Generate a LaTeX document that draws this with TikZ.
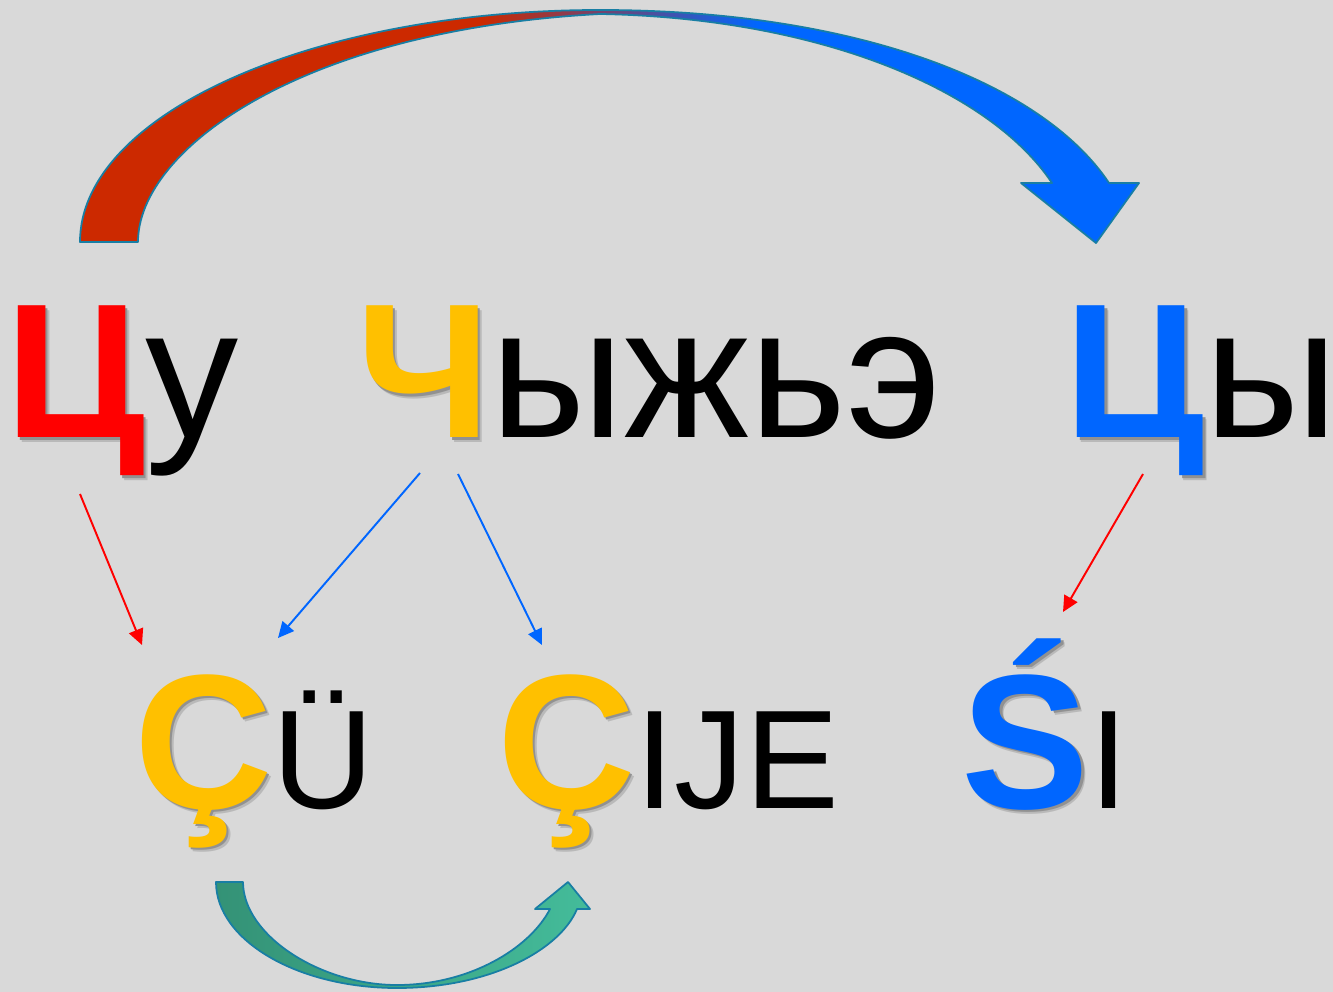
\documentclass[tikz,border=0pt]{standalone}
\usepackage{fontspec}
\setmainfont{Liberation Sans}
\usetikzlibrary{arrows.meta}
\definecolor{bggray}{RGB}{217,217,217}
\definecolor{shadowgray}{RGB}{145,145,145}
\definecolor{shadowlight}{RGB}{185,185,185}
\definecolor{lettred}{RGB}{255,0,0}
\definecolor{lettyellow}{RGB}{255,192,0}
\definecolor{lettblue}{RGB}{0,102,255}
\definecolor{arrowred}{RGB}{204,41,0}
\definecolor{arrowblue}{RGB}{0,102,255}
\definecolor{arrowedge}{RGB}{24,126,164}
\definecolor{tealdark}{RGB}{52,146,118}
\definecolor{teallight}{RGB}{68,188,154}
\pgfdeclarehorizontalshading{redblue}{100bp}{color(0bp)=(arrowred); color(44bp)=(arrowred); color(57bp)=(arrowblue); color(100bp)=(arrowblue)}

\newcommand{\bigfont}{\fontsize{109}{120}\selectfont\bfseries}
\newcommand{\topfont}{\fontsize{106}{120}\selectfont}
\newcommand{\lowfont}{\fontsize{80}{96}\selectfont}
% big letter with a soft drop shadow
\newcommand{\shadowltr}[2]{\rlap{\kern2.6pt\raisebox{-2.6pt}{\color{shadowlight}#2}}\rlap{\kern1.5pt\raisebox{-1.5pt}{\color{shadowgray}#2}}{\color{#1}#2}}

\begin{document}
\begin{tikzpicture}[x=0.2mm, y=-0.2mm,
    word/.style={inner sep=0pt, anchor=base west},
    thin/.style={line width=1.1pt, -{Triangle[length=9pt,width=8.5pt]}},
    bigarrow/.style={draw=arrowedge, line width=1pt, line join=round}]
    % Background
    \fill[bggray] (0,0) rectangle (1333,992);
    \useasboundingbox (0,0) rectangle (1333,992);

    % Curved arrows
    \shadedraw[bigarrow, shading=redblue] (80,242) .. controls (80,114) and (313,10) .. (600,10)
        .. controls (850,10) and (1040,80) .. (1109,183) -- (1139,183) -- (1096,243) -- (1021,183) -- (1052,183)
        .. controls (990,90) and (820,18) .. (600,14)
        .. controls (300,30) and (138,150) .. (138,242) -- cycle;
    \shadedraw[bigarrow, left color=tealdark, right color=teallight] (216,882) .. controls (216,940) and (297,988) .. (397,988)
        .. controls (490,988) and (560,950) .. (577,909) -- (590,909) -- (568,882) -- (535,909) -- (550,909)
        .. controls (530,948) and (470,985) .. (397,985)
        .. controls (320,985) and (243,935) .. (243,882) -- cycle;

    % Words
    \node[word] (cu) at (5,438) {{\bigfont\shadowltr{lettred}{Ц}}{\topfont у}};
    \node[word] (chyzhe) at (356,438) {{\bigfont\shadowltr{lettyellow}{Ч}}{\topfont ыжьэ}};
    \node[word] (cy) at (1064,438) {{\bigfont\shadowltr{lettblue}{Ц}}{\topfont ы}};
    \node[word] (cuu) at (134,808) {{\bigfont\shadowltr{lettyellow}{Ç}}{\lowfont Ü}};
    \node[word] (cije) at (497,808) {{\bigfont\shadowltr{lettyellow}{Ç}}{\lowfont IJE}};
    \node[word] (si) at (961,808) {{\bigfont\shadowltr{lettblue}{Ś}}{\lowfont I}};

    % Thin arrows
    \coordinate (cu-from) at (80,494);
    \coordinate (cu-to) at (142,645);
    \coordinate (ch-from) at (420,473);
    \coordinate (ch-to) at (278,638);
    \coordinate (ch-from2) at (458,474);
    \coordinate (ch-to2) at (542,645);
    \coordinate (cy-from) at (1143,474);
    \coordinate (cy-to) at (1063,612);
    \draw[thin, lettred] (cu-from) -- (cu-to);
    \draw[thin, lettblue] (ch-from) -- (ch-to);
    \draw[thin, lettblue] (ch-from2) -- (ch-to2);
    \draw[thin, lettred] (cy-from) -- (cy-to);
\end{tikzpicture}
\end{document}
